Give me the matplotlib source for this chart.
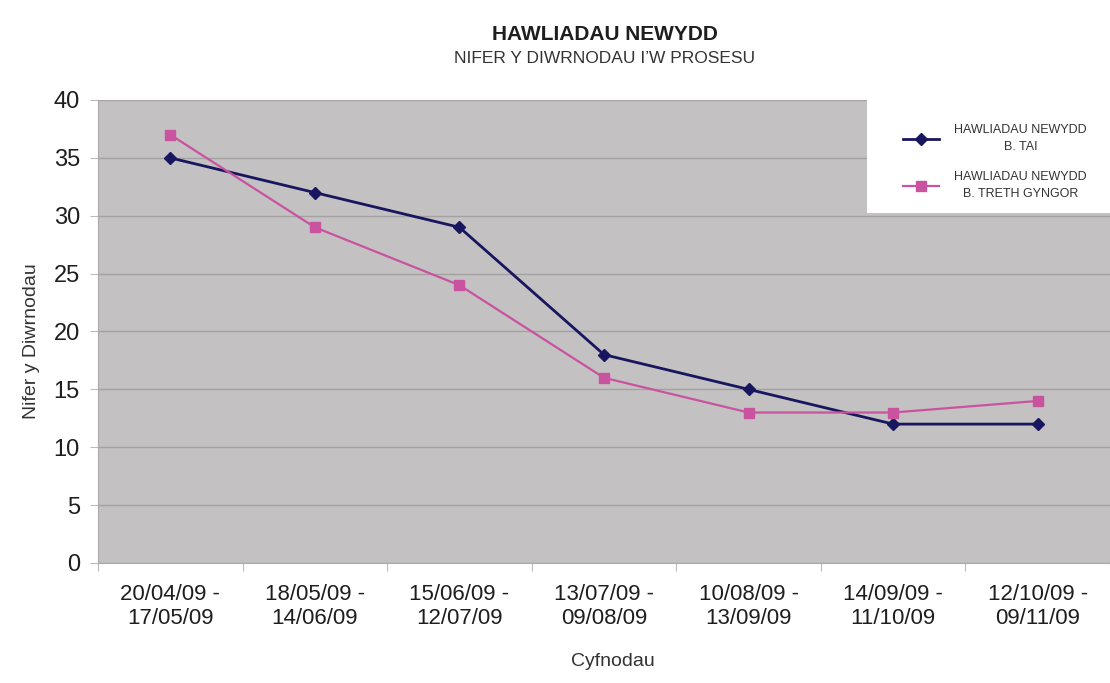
import matplotlib.pyplot as plt
from matplotlib.patches import Rectangle
from matplotlib.legend_handler import HandlerLine2D

plt.rcParams['font.family'] = ['Liberation Sans', 'DejaVu Sans']

# cyfnodau (periods)
cyfnodau = ['20/04/09 -\n17/05/09', '18/05/09 -\n14/06/09', '15/06/09 -\n12/07/09',
            '13/07/09 -\n09/08/09', '10/08/09 -\n13/09/09', '14/09/09 -\n11/10/09',
            '12/10/09 -\n09/11/09']
tai = [35, 32, 29, 18, 15, 12, 12]
treth = [37, 29, 24, 16, 13, 13, 14]
label_tai = 'HAWLIADAU NEWYDD\nB. TAI'
label_treth = 'HAWLIADAU NEWYDD\nB. TRETH GYNGOR'

fig = plt.figure(figsize=(11.1, 6.83), dpi=100)
ax = fig.add_axes([0.0883, 0.1757, 0.9117, 0.6779])
ax.set_facecolor('#c3c1c2')

x = range(len(cyfnodau))
ax.plot(x, tai, color='#17165f', lw=2, marker='D', ms=6.5, label=label_tai, zorder=3)
ax.plot(x, treth, color='#c9539f', lw=1.6, marker='s', ms=7, label=label_treth, zorder=3)

ax.set_xlim(-0.5, len(cyfnodau) - 0.5)
ax.set_ylim(0, 40)
ax.set_yticks(range(0, 41, 5))
ax.yaxis.grid(True, color='#a3a1a2', lw=1)
ax.set_axisbelow(True)

# category labels sit between the boundary ticks
ax.set_xticks([i - 0.5 for i in range(len(cyfnodau) + 1)])
ax.set_xticklabels([])
ax.set_xticks(list(x), minor=True)
ax.set_xticklabels(cyfnodau, minor=True, fontsize=16, color='#1e1e1e')
ax.tick_params(axis='x', which='minor', length=0, pad=15)
ax.tick_params(axis='x', which='major', length=6, color='#bbbbbb')
ax.tick_params(axis='y', length=6, color='#bbbbbb', labelsize=17, labelcolor='#1e1e1e', pad=7)

for s in ['top', 'right']:
    ax.spines[s].set_visible(False)
for s in ['left', 'bottom']:
    ax.spines[s].set_color('#aaaaaa')

ax.set_xlabel('Cyfnodau', fontsize=14, color='#333333')
ax.xaxis.set_label_coords(0.509, -0.195)
ax.set_ylabel('Nifer y Diwrnodau', fontsize=14, color='#333333')
ax.yaxis.set_label_coords(-0.057, 0.48)

fig.text(0.545, 0.95, 'HAWLIADAU NEWYDD', ha='center', va='center',
         fontsize=15, fontweight='bold', color='#1e1e1e')
fig.text(0.545, 0.914, 'NIFER Y DIWRNODAU I\u2019W PROSESU', ha='center', va='center',
         fontsize=12.5, color='#333333')

# white legend panel in the top right corner
ax.add_patch(Rectangle((0.76, 0.756), 0.24, 0.244, transform=ax.transAxes,
                       facecolor='white', edgecolor='none', zorder=4))
leg = ax.legend(loc='center', bbox_to_anchor=(0.886, 0.866), fontsize=9,
                frameon=False, labelspacing=1.5, handlelength=2.9, handletextpad=1.2,
                handler_map={plt.Line2D: HandlerLine2D(numpoints=1)})
leg.set_zorder(5)
for t in leg.get_texts():
    t.set_multialignment('center')
    t.set_linespacing(1.5)
    t.set_color('#333333')

fig.savefig('out.png', dpi=100)
